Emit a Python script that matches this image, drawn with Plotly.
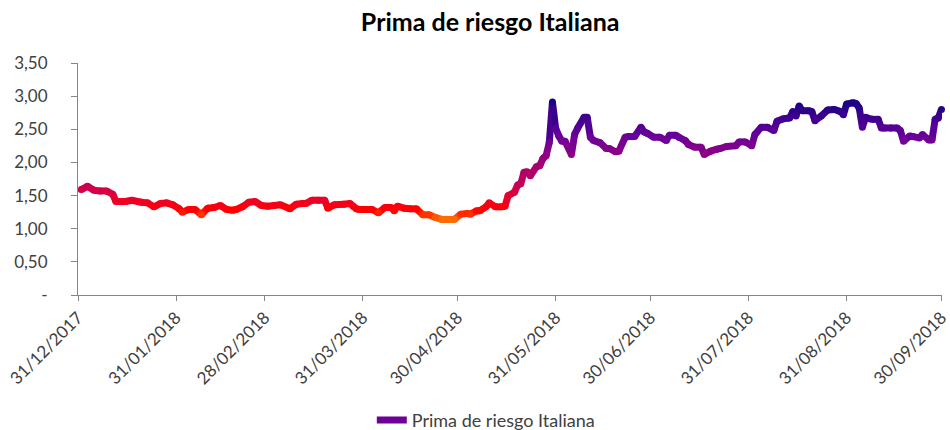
import plotly.graph_objects as go
from plotly.colors import sample_colorscale

series_name = "Prima de riesgo Italiana"
chart_title = "Prima de riesgo Italiana"

dates = [
    "2018-01-01", "2018-01-03", "2018-01-05", "2018-01-07", "2018-01-09", "2018-01-11", "2018-01-12",
    "2018-01-15", "2018-01-17", "2018-01-20", "2018-01-22", "2018-01-24", "2018-01-26", "2018-01-28",
    "2018-01-30",
    "2018-02-01", "2018-02-02", "2018-02-04", "2018-02-06", "2018-02-08", "2018-02-10", "2018-02-12",
    "2018-02-14", "2018-02-16", "2018-02-18", "2018-02-19", "2018-02-21", "2018-02-23", "2018-02-25",
    "2018-02-27",
    "2018-03-01", "2018-03-03", "2018-03-05", "2018-03-08", "2018-03-10", "2018-03-12", "2018-03-13",
    "2018-03-15", "2018-03-17", "2018-03-19", "2018-03-20", "2018-03-22", "2018-03-25", "2018-03-27",
    "2018-03-28", "2018-03-29", "2018-03-30",
    "2018-04-01", "2018-04-03", "2018-04-05", "2018-04-07", "2018-04-09", "2018-04-10", "2018-04-11",
    "2018-04-13", "2018-04-15", "2018-04-17", "2018-04-19", "2018-04-21", "2018-04-23", "2018-04-25",
    "2018-04-27", "2018-04-29",
    "2018-05-01", "2018-05-03", "2018-05-04", "2018-05-06", "2018-05-07", "2018-05-09", "2018-05-10",
    "2018-05-12", "2018-05-14", "2018-05-15", "2018-05-16", "2018-05-18", "2018-05-19", "2018-05-20",
    "2018-05-21", "2018-05-22", "2018-05-23", "2018-05-25", "2018-05-26", "2018-05-27", "2018-05-28",
    "2018-05-29", "2018-05-30", "2018-05-31",
    "2018-06-01", "2018-06-02", "2018-06-03", "2018-06-05", "2018-06-06", "2018-06-07", "2018-06-09",
    "2018-06-10", "2018-06-11", "2018-06-12", "2018-06-14", "2018-06-16", "2018-06-17", "2018-06-19",
    "2018-06-20", "2018-06-22", "2018-06-23", "2018-06-25", "2018-06-27", "2018-06-28", "2018-06-29",
    "2018-07-01", "2018-07-03", "2018-07-05", "2018-07-06", "2018-07-08", "2018-07-09", "2018-07-11",
    "2018-07-12", "2018-07-14", "2018-07-16", "2018-07-17", "2018-07-19", "2018-07-21", "2018-07-22",
    "2018-07-24", "2018-07-27", "2018-07-28", "2018-07-30",
    "2018-08-01", "2018-08-02", "2018-08-04", "2018-08-06", "2018-08-08", "2018-08-09", "2018-08-11",
    "2018-08-13", "2018-08-14", "2018-08-15", "2018-08-16", "2018-08-17", "2018-08-19", "2018-08-20",
    "2018-08-21", "2018-08-23", "2018-08-25", "2018-08-27", "2018-08-29", "2018-08-30", "2018-08-31",
    "2018-09-02", "2018-09-03", "2018-09-04", "2018-09-05", "2018-09-06", "2018-09-08", "2018-09-10",
    "2018-09-11", "2018-09-12", "2018-09-14", "2018-09-16", "2018-09-17", "2018-09-18", "2018-09-20",
    "2018-09-21", "2018-09-23", "2018-09-24", "2018-09-26", "2018-09-27", "2018-09-28", "2018-09-29",
    "2018-09-30",
]

values = [
    1.59, 1.64, 1.58, 1.57, 1.57, 1.52, 1.41,
    1.41, 1.43, 1.40, 1.39, 1.33, 1.38, 1.39,
    1.36,
    1.30, 1.25, 1.29, 1.29, 1.21, 1.31, 1.32,
    1.35, 1.29, 1.28, 1.29, 1.33, 1.40, 1.41,
    1.35,
    1.34, 1.35, 1.36, 1.30, 1.37, 1.38, 1.38,
    1.43, 1.43, 1.43, 1.31, 1.36, 1.37, 1.38,
    1.34, 1.30, 1.29,
    1.29, 1.29, 1.24, 1.32, 1.32, 1.27, 1.34,
    1.31, 1.30, 1.30, 1.21, 1.21, 1.17, 1.14,
    1.14, 1.14,
    1.22, 1.23, 1.22, 1.27, 1.27, 1.33, 1.39,
    1.33, 1.33, 1.34, 1.50, 1.55, 1.66, 1.68,
    1.85, 1.86, 1.80, 1.94, 1.95, 2.06, 2.10,
    2.30, 2.91, 2.52,
    2.40, 2.32, 2.32, 2.12, 2.42, 2.52, 2.68,
    2.68, 2.38, 2.33, 2.30, 2.21, 2.21, 2.16,
    2.17, 2.38, 2.39, 2.39, 2.53, 2.46, 2.44,
    2.38, 2.38, 2.33, 2.41, 2.41, 2.38, 2.33,
    2.27, 2.23, 2.23, 2.12, 2.17, 2.20, 2.21,
    2.24, 2.25, 2.31, 2.31,
    2.25, 2.42, 2.53, 2.53, 2.48, 2.62, 2.66,
    2.67, 2.77, 2.70, 2.85, 2.78, 2.78, 2.77,
    2.63, 2.70, 2.79, 2.80, 2.77, 2.72, 2.88,
    2.90, 2.89, 2.82, 2.53, 2.68, 2.65, 2.65,
    2.52, 2.52, 2.52, 2.52, 2.48, 2.32, 2.40,
    2.39, 2.37, 2.42, 2.34, 2.34, 2.65, 2.67,
    2.80,
]

x_tick_dates = ["2017-12-31", "2018-01-31", "2018-02-28", "2018-03-31", "2018-04-30",
                "2018-05-31", "2018-06-30", "2018-07-31", "2018-08-31", "2018-09-30"]
x_tick_labels = ["31/12/2017", "31/01/2018", "28/02/2018", "31/03/2018", "30/04/2018",
                 "31/05/2018", "30/06/2018", "31/07/2018", "31/08/2018", "30/09/2018"]
y_tick_vals = [0, 0.5, 1.0, 1.5, 2.0, 2.5, 3.0, 3.5]
y_tick_labels = ["-", "0,50", "1,00", "1,50", "2,00", "2,50", "3,00", "3,50"]

# colour gradient depending on value (style)
vmin, vmax = 1.10, 2.95
stops = [
    (1.10, "rgb(255,140,0)"),
    (1.20, "rgb(255,60,0)"),
    (1.28, "rgb(255,0,0)"),
    (1.45, "rgb(235,0,45)"),
    (1.65, "rgb(200,0,85)"),
    (2.00, "rgb(160,0,120)"),
    (2.40, "rgb(105,0,155)"),
    (2.95, "rgb(20,0,130)"),
]
cscale = [[(v - vmin) / (vmax - vmin), c] for v, c in stops]


def col(v):
    t = min(max((v - vmin) / (vmax - vmin), 0), 1)
    return sample_colorscale(cscale, [t])[0]


fig = go.Figure()
for i in range(len(values) - 1):
    mid = (values[i] + values[i + 1]) / 2
    fig.add_trace(go.Scatter(
        x=[dates[i], dates[i + 1]], y=[values[i], values[i + 1]],
        mode="lines", line=dict(color=col(mid), width=7),
        showlegend=False, hoverinfo="skip", cliponaxis=False))

fig.add_trace(go.Scatter(
    x=dates, y=values, mode="markers",
    marker=dict(size=7, color=[col(v) for v in values], line=dict(width=0)),
    showlegend=False, name=series_name, cliponaxis=False))

fig.add_trace(go.Scatter(
    x=[None], y=[None], mode="lines", name=series_name,
    line=dict(color="rgb(110,0,150)", width=7)))

font_family = "Lato, Liberation Sans, sans-serif"

fig.update_layout(
    width=950, height=430,
    margin=dict(l=78, r=8, t=63, b=135, autoexpand=False),
    paper_bgcolor="white", plot_bgcolor="white",
    font=dict(family=font_family, size=16, color="#404040"),
    title=dict(text="<b>" + chart_title + "</b>", x=0.516, y=0.949, xanchor="center", yanchor="middle",
               font=dict(family=font_family, size=25, color="#000000")),
    showlegend=True,
    legend=dict(orientation="h", x=0.472, xanchor="center", y=-0.54, yanchor="middle",
                font=dict(family=font_family, size=18, color="#404040"),
                bgcolor="rgba(0,0,0,0)"),
    xaxis=dict(
        type="date", range=["2017-12-31", "2018-09-30 04:00"],
        tickmode="array", tickvals=x_tick_dates, ticktext=x_tick_labels,
        tickangle=-45, showgrid=False, zeroline=False, automargin=False,
        ticklabeloverflow="allow",
        showline=True, linecolor="#868686", linewidth=1,
        ticks="outside", ticklen=5, tickcolor="#868686",
        tickfont=dict(family=font_family, size=17, color="#404040"),
    ),
    yaxis=dict(
        range=[0, 3.5], tickmode="array", tickvals=y_tick_vals, ticktext=y_tick_labels,
        showgrid=False, zeroline=False, automargin=False,
        ticklabelstandoff=20,
        showline=True, linecolor="#868686", linewidth=1,
        ticks="outside", ticklen=6, tickcolor="#868686",
        tickfont=dict(family=font_family, size=17, color="#404040"),
    ),
)

fig.write_html("out.html", config={"displayModeBar": False},
               post_script="document.body.style.margin='0';document.body.style.overflow='hidden';")
